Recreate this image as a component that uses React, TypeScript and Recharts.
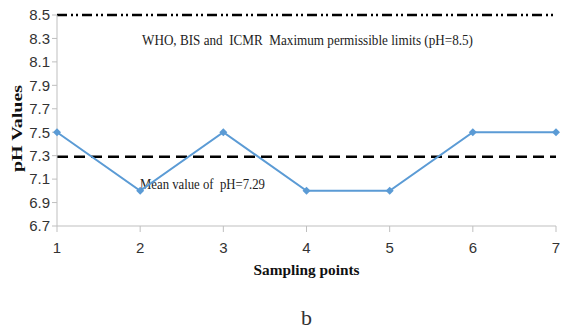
import React from "react";
import {
  LineChart,
  Line,
  XAxis,
  YAxis,
  ReferenceLine,
  Label,
} from "recharts";

// Sampling points and measured pH
const samplingPoints = [1, 2, 3, 4, 5, 6, 7];
const phValues = [7.5, 7.0, 7.5, 7.0, 7.0, 7.5, 7.5];

// Axis ticks
const yTicks = [6.7, 6.9, 7.1, 7.3, 7.5, 7.7, 7.9, 8.1, 8.3, 8.5];
const xTicks = [1, 2, 3, 4, 5, 6, 7];

// Reference levels
const permissibleLimit = 8.5;
const meanValue = 7.29;
const limitText = "WHO, BIS and  ICMR  Maximum permissible limits (pH=8.5)";
const meanText = "Mean value of  pH=7.29";

const data = samplingPoints.map((p, i) => ({ point: p, ph: phValues[i] }));

const serif = "'Liberation Serif', 'Times New Roman', serif";
const narrow = "'Liberation Sans Narrow', 'Liberation Sans', Arial, sans-serif";

const Diamond = (props: any) => {
  const { cx, cy } = props;
  if (cx == null || cy == null) return null;
  const r = 4;
  return (
    <path
      d={`M${cx},${cy - r} L${cx + r},${cy} L${cx},${cy + r} L${cx - r},${cy} Z`}
      fill="#5b9bd5"
      stroke="none"
    />
  );
};

export default function App() {
  return (
    <div style={{ position: "absolute", left: 0, top: 0, width: 564, height: 331, background: "#fff" }}>
      <LineChart
        width={564}
        height={331}
        data={data}
        margin={{ top: 15, right: 8, bottom: 65, left: 0 }}
      >
        <XAxis
          dataKey="point"
          type="number"
          domain={[1, 7]}
          ticks={xTicks}
          axisLine={{ stroke: "#bfbfbf" }}
          tickLine={{ stroke: "#bfbfbf" }}
          tickSize={6}
          tick={{ fill: "#333", fontSize: 15, fontFamily: narrow, dy: 8 }}
          height={40}
        >
          <Label
            content={({ viewBox }: any) => (
              <g>
                <text
                  x={viewBox.x + viewBox.width / 2}
                  y={viewBox.y + 49}
                  textAnchor="middle"
                  fontFamily={serif}
                  fontWeight="bold"
                  fontSize={15}
                  fill="#111"
                  textLength={106}
                  lengthAdjust="spacingAndGlyphs"
                >
                  Sampling points
                </text>
                <text
                  x={viewBox.x + viewBox.width / 2}
                  y={viewBox.y + 99}
                  textAnchor="middle"
                  fontFamily={serif}
                  fontSize={22}
                  fill="#333"
                >
                  b
                </text>
              </g>
            )}
          />
        </XAxis>
        <YAxis
          type="number"
          domain={[6.7, 8.5]}
          ticks={yTicks}
          interval={0}
          width={57}
          axisLine={{ stroke: "#bfbfbf" }}
          tickLine={{ stroke: "#bfbfbf" }}
          tickSize={5}
          tickFormatter={(v: number) => v.toFixed(1)}
          tick={{ fill: "#333", fontSize: 15, fontFamily: narrow }}
        >
          <Label
            content={({ viewBox }: any) => {
              const cy = viewBox.y + viewBox.height / 2 + 8;
              return (
                <text
                  x={17}
                  y={cy}
                  transform={`rotate(-90, 17, ${cy})`}
                  textAnchor="middle"
                  dominantBaseline="central"
                  fontFamily={serif}
                  fontWeight="bold"
                  fontSize={15}
                  fill="#111"
                  textLength={87}
                  lengthAdjust="spacingAndGlyphs"
                >
                  pH Values
                </text>
              );
            }}
          />
        </YAxis>
        <ReferenceLine
          y={permissibleLimit}
          stroke="#000"
          strokeWidth={2.5}
          strokeDasharray="10 4 2 3 2 4"
          label={
            <Label
              content={({ viewBox }: any) => (
                <text
                  x={viewBox.x + 85}
                  y={viewBox.y + 30}
                  fontFamily={serif}
                  fontSize={15}
                  fill="#222"
                  style={{ whiteSpace: "pre" }}
                  textLength={331}
                  lengthAdjust="spacingAndGlyphs"
                >
                  {limitText}
                </text>
              )}
            />
          }
        />
        <ReferenceLine
          y={meanValue}
          stroke="#000"
          strokeWidth={2.5}
          strokeDasharray="11 6"
          label={
            <Label
              content={({ viewBox }: any) => (
                <text
                  x={viewBox.x + 83}
                  y={viewBox.y + 32}
                  fontFamily={serif}
                  fontSize={15}
                  fill="#222"
                  style={{ whiteSpace: "pre" }}
                  textLength={125}
                  lengthAdjust="spacingAndGlyphs"
                >
                  {meanText}
                </text>
              )}
            />
          }
        />
        <Line
          type="linear"
          dataKey="ph"
          stroke="#5b9bd5"
          strokeWidth={2}
          dot={<Diamond />}
          activeDot={false}
          isAnimationActive={false}
        />
      </LineChart>
    </div>
  );
}
